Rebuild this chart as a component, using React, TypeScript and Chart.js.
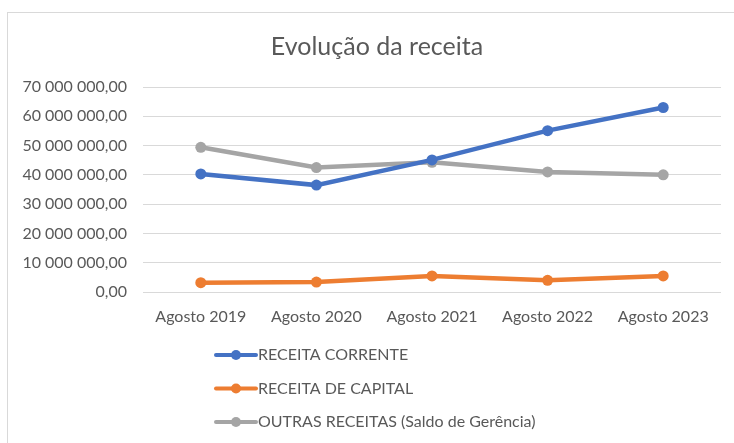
import React, { useEffect, useRef } from "react";
import { Chart, registerables } from "chart.js";

Chart.register(...registerables);

const categories = ["Agosto 2019", "Agosto 2020", "Agosto 2021", "Agosto 2022", "Agosto 2023"];
const receitaCorrente = [40300000, 36500000, 45100000, 55100000, 63000000];
const receitaCapital = [3200000, 3400000, 5500000, 4000000, 5500000];
const outrasReceitas = [49400000, 42500000, 44300000, 41000000, 40000000];
const seriesNames = ["RECEITA CORRENTE", "RECEITA DE CAPITAL", "OUTRAS RECEITAS (Saldo de Gerência)"];
const seriesColors = ["#4472C4", "#ED7D31", "#A5A5A5"];
const titleText = "Evolução da receita";
const yMax = 70000000;
const yStep = 10000000;

const FONT = "Lato, 'Open Sans', sans-serif";
const TEXT = "#595959";

function fmt(v: number): string {
  const s = Math.round(v).toString();
  const parts: string[] = [];
  for (let i = s.length; i > 0; i -= 3) {
    parts.unshift(s.substring(Math.max(0, i - 3), i));
  }
  return parts.join(" ") + ",00";
}

const legendPlugin = {
  id: "customLegend",
  afterDraw(chart: any) {
    const ctx = chart.ctx;
    ctx.save();
    // title
    ctx.fillStyle = TEXT;
    ctx.font = `25px ${FONT}`;
    ctx.textBaseline = "middle";
    ctx.textAlign = "center";
    ctx.fillText(titleText, 377, 47);
    chart.data.datasets.forEach((ds: any, i: number) => {
      const y = 355 + i * 33.5;
      ctx.strokeStyle = ds.borderColor;
      ctx.lineWidth = 4;
      ctx.lineCap = "round";
      ctx.beginPath();
      ctx.moveTo(216, y);
      ctx.lineTo(256, y);
      ctx.stroke();
      ctx.fillStyle = ds.borderColor;
      ctx.beginPath();
      ctx.arc(236, y, 5, 0, Math.PI * 2);
      ctx.fill();
      ctx.fillStyle = TEXT;
      ctx.font = `16px ${FONT}`;
      ctx.textBaseline = "middle";
      ctx.textAlign = "left";
      ctx.fillText(ds.label, 258, y);
    });
    ctx.restore();
  },
};

export default function App() {
  const ref = useRef<HTMLCanvasElement | null>(null);
  useEffect(() => {
    if (!ref.current) return;
    const values = [receitaCorrente, receitaCapital, outrasReceitas];
    const chart = new Chart(ref.current, {
      type: "line",
      data: {
        labels: categories,
        datasets: values.map((d, i) => ({
          label: seriesNames[i],
          data: d,
          borderColor: seriesColors[i],
          backgroundColor: seriesColors[i],
          borderWidth: 4.5,
          pointRadius: 5.5,
          pointHoverRadius: 5.5,
          pointBorderWidth: 0,
          tension: 0,
        })),
      },
      options: {
        responsive: false,
        animation: false,
        layout: { padding: { left: 0, right: 13, top: 87, bottom: 111 } },
        plugins: {
          legend: { display: false },
          tooltip: { enabled: false },
          title: { display: false },
        },
        scales: {
          x: {
            offset: true,
            grid: { display: false, drawTicks: false, offset: true },
            border: { display: false },
            ticks: { color: TEXT, font: { family: FONT, size: 16 }, padding: 15, maxRotation: 0 },
            afterFit: (s: any) => { s.height = 40; },
          },
          y: {
            min: 0,
            max: yMax,
            ticks: {
              stepSize: yStep,
              color: TEXT,
              font: { family: FONT, size: 16 },
              padding: 16,
              callback: (v: any) => fmt(Number(v)),
            },
            grid: { color: "#d9d9d9", lineWidth: 1, drawTicks: false },
            border: { display: false },
            afterFit: (s: any) => { s.width = 143; },
          },
        },
      },
      plugins: [legendPlugin],
    });
    return () => chart.destroy();
  }, []);
  return (
    <>
      <div
        style={{
          position: "fixed",
          left: 7,
          top: 12,
          width: 800,
          height: 500,
          border: "1px solid #d9d9d9",
          boxSizing: "border-box",
        }}
      />
      <canvas
        ref={ref}
        width={734}
        height={443}
        style={{ position: "fixed", left: 0, top: 0, display: "block" }}
      />
    </>
  );
}
